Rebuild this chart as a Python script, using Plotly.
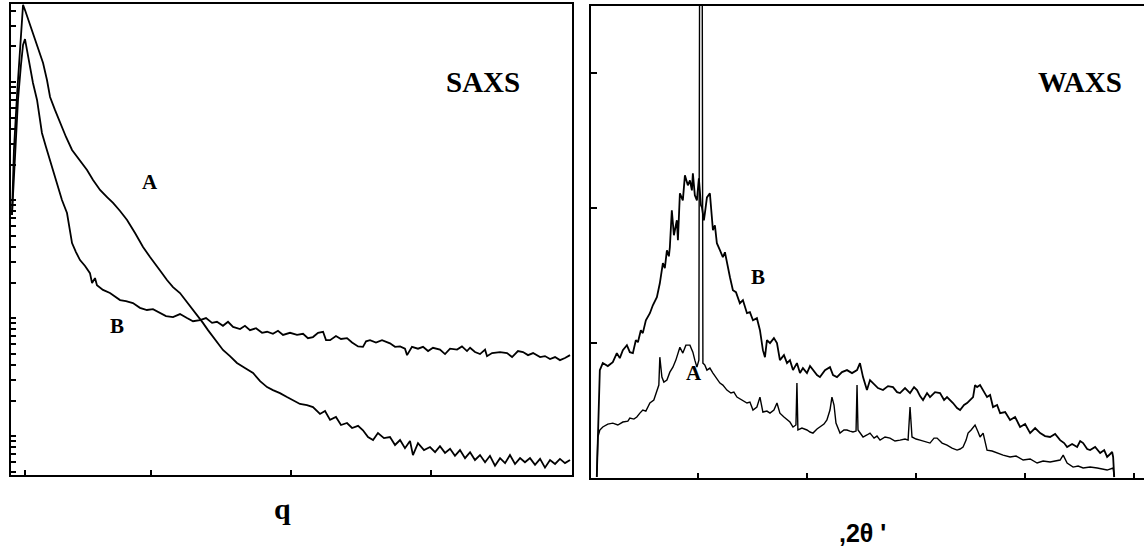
import plotly.graph_objects as go

# ---------------- SAXS data (q arbitrary units, intensity log scale) ----------------
saxs_a_q = [0.007, 0.021, 0.043, 0.064, 0.086, 0.1, 0.129, 0.157, 0.193, 0.229, 0.257, 0.279, 0.314, 0.35,
            0.393, 0.436, 0.493, 0.543, 0.586, 0.636, 0.686, 0.729, 0.779, 0.829, 0.886, 0.943, 0.993, 1.043,
            1.079, 1.114, 1.157, 1.207, 1.257, 1.3, 1.336, 1.371, 1.407, 1.443, 1.479, 1.514, 1.564, 1.614,
            1.671, 1.729, 1.779, 1.829, 1.871, 1.921, 1.971, 2.014, 2.064, 2.114, 2.157, 2.207, 2.243, 2.279,
            2.321, 2.357, 2.4, 2.436, 2.479, 2.514, 2.55, 2.586, 2.621, 2.664, 2.707, 2.743, 2.779, 2.814,
            2.85, 2.871, 2.907, 2.95, 2.993, 3.029, 3.064, 3.1, 3.136, 3.171, 3.207, 3.243, 3.279, 3.314,
            3.35, 3.386, 3.421, 3.457, 3.493, 3.529, 3.564, 3.6, 3.636, 3.671, 3.707, 3.743, 3.779, 3.814,
            3.85, 3.886, 3.921, 3.957, 3.993]
saxs_a_i = [746, 2655, 7760, 20600, 45000, 40700, 32300, 26000, 19400, 14500, 10400, 7460, 5800, 4500,
            3420, 2655, 2140, 1795, 1479, 1216, 1060, 944, 807, 678, 525, 400, 329, 270,
            240, 210, 183, 163, 137, 117, 102, 91, 79, 69, 60.3, 53.6, 47.6, 41.6,
            37.7, 34.2, 29.2, 26.0, 24.5, 23.1, 21.4, 20.2, 18.7, 18.3, 17.6, 15.4, 16.3, 13.7,
            14.5, 12.4, 12.9, 11.7, 12.2, 11.2, 9.8, 9.25, 10.6, 9.6, 9.8, 8.4, 9.25, 7.9,
            9.1, 6.9, 8.7, 7.6, 8.07, 7.3, 8.2, 7.2, 7.8, 6.8, 7.6, 6.5, 7.3, 6.27,
            6.9, 6.0, 6.8, 5.6, 6.5, 5.9, 6.9, 5.8, 6.5, 6.0, 6.5, 5.7, 6.4, 5.4,
            6.27, 5.8, 6.4, 5.9, 6.27]

saxs_b_q = [0.007, 0.029, 0.05, 0.071, 0.086, 0.1, 0.114, 0.136, 0.157, 0.186, 0.207, 0.221, 0.25, 0.279,
            0.307, 0.336, 0.364, 0.4, 0.421, 0.436, 0.464, 0.493, 0.529, 0.564, 0.579, 0.6, 0.614, 0.657,
            0.707, 0.743, 0.779, 0.821, 0.871, 0.921, 0.971, 1.014, 1.064, 1.107, 1.157, 1.207, 1.257, 1.3,
            1.35, 1.393, 1.436, 1.471, 1.514, 1.55, 1.586, 1.636, 1.671, 1.707, 1.75, 1.793, 1.829, 1.871,
            1.907, 1.943, 1.993, 2.043, 2.086, 2.121, 2.157, 2.193, 2.229, 2.25, 2.279, 2.321, 2.357, 2.4,
            2.436, 2.479, 2.514, 2.536, 2.564, 2.607, 2.65, 2.707, 2.743, 2.779, 2.814, 2.829, 2.864, 2.907,
            2.943, 2.979, 3.014, 3.064, 3.1, 3.136, 3.186, 3.221, 3.257, 3.279, 3.314, 3.35, 3.386, 3.4,
            3.436, 3.493, 3.543, 3.579, 3.621, 3.657, 3.693, 3.729, 3.779, 3.814, 3.85, 3.886, 3.921, 3.957,
            3.993]
saxs_b_i = [746, 2183, 7050, 13900, 20600, 23100, 18700, 13400, 9810, 7050, 4950, 3700, 2810, 2183,
            1660, 1288, 1000, 776, 557, 432, 362, 310, 276, 240, 198, 218, 190, 173,
            163, 151, 142, 139, 134, 122, 117, 119, 110, 104, 102, 108, 100, 94,
            96, 100, 91, 93, 86, 93, 84, 80.7, 86, 79, 82, 75, 76.5, 73.5,
            78, 72, 75, 72, 73.5, 67.5, 69, 75, 76.5, 65, 65, 70.5, 66.5, 67.5,
            62, 57.5, 57, 63.5, 65, 62, 65, 61, 57, 57.5, 55, 48.5, 57, 55,
            57, 52.5, 56, 54, 49.5, 55, 54, 57.5, 52.5, 56, 51.5, 49.5, 54, 47.5,
            50.5, 51.5, 50.5, 46.7, 52.5, 51.5, 48.5, 50.5, 46.7, 47.6, 45, 46.7, 44, 45.8,
            48.5]

saxs_xticks = [0.1, 1, 2, 3, 4]
saxs_yticks = [5, 6, 7, 8, 9, 10, 20, 30, 40, 50, 60, 70, 80, 90, 100, 200, 300, 400, 500, 600, 700, 800, 900,
               1000, 2000, 3000, 4000, 5000, 6000, 7000, 8000, 9000, 10000, 20000, 30000, 40000]

# ---------------- WAXS data (2theta, intensity linear) ----------------
waxs_b_t = [0.73, 0.92, 1.01, 1.28, 1.74, 2.20, 2.57, 2.84, 3.12, 3.49, 3.76, 4.04, 4.31, 4.50, 4.77, 4.95,
            5.23, 5.60, 5.87, 6.24, 6.51, 6.79, 6.97, 7.16, 7.34, 7.43, 7.61, 7.80, 8.07, 8.17, 8.35, 8.62,
            8.81, 9.08, 9.27, 9.45, 9.54, 9.72, 9.91, 10.09, 10.28, 10.37, 10.55, 10.64, 10.83, 11.10, 11.28,
            11.38, 11.56, 11.74, 12.02, 12.29, 12.48, 12.66, 12.94, 13.21, 13.49, 13.85, 14.13, 14.50, 14.77,
            15.05, 15.41, 15.69, 15.96, 16.15, 16.33, 16.61, 16.97, 17.25, 17.52, 17.89, 18.17, 18.44, 18.72,
            19.08, 19.36, 19.63, 20.0, 20.28, 20.55, 20.92, 21.19, 21.65, 22.11, 22.39, 22.75, 23.21, 23.67,
            24.13, 24.59, 24.86, 25.14, 25.50, 25.78, 26.06, 26.51, 26.97, 27.43, 27.89, 28.26, 28.53, 28.99,
            29.45, 29.82, 30.09, 30.37, 30.64, 31.01, 31.28, 31.74, 32.20, 32.57, 32.84, 33.12, 33.39, 33.76,
            34.04, 34.40, 34.68, 34.95, 35.23, 35.41, 35.60, 35.87, 36.15, 36.51, 36.79, 37.06, 37.43, 37.71,
            38.17, 38.62, 39.08, 39.54, 40.0, 40.46, 40.92, 41.38, 41.83, 42.29, 42.75, 43.21, 43.58, 43.85,
            44.31, 44.77, 45.05, 45.32, 45.69, 45.96, 46.42, 46.88, 47.25, 47.52, 47.80, 47.98, 48.07, 48.17]
waxs_b_i = [0.007, 0.652, 0.80, 0.852, 0.830, 0.859, 0.926, 0.889, 0.948, 0.985, 0.933, 0.926, 1.022, 1.007,
            1.096, 1.074, 1.170, 1.222, 1.281, 1.341, 1.444, 1.593, 1.556, 1.689, 1.644, 1.711, 1.985, 1.8,
            1.911, 1.763, 2.111, 2.059, 2.244, 2.170, 2.207, 2.133, 2.259, 2.096, 2.059, 2.222, 2.022, 2.007,
            1.911, 1.963, 2.081, 2.111, 1.948, 1.837, 1.874, 1.741, 1.689, 1.637, 1.674, 1.593, 1.489, 1.393,
            1.378, 1.296, 1.319, 1.222, 1.230, 1.170, 1.185, 1.096, 0.948, 0.896, 1.022, 1.0, 1.037, 1.0,
            0.874, 0.911, 0.852, 0.874, 0.80, 0.852, 0.778, 0.815, 0.778, 0.830, 0.80, 0.763, 0.748, 0.80,
            0.822, 0.763, 0.748, 0.785, 0.80, 0.778, 0.80, 0.852, 0.748, 0.652, 0.726, 0.704, 0.667, 0.652,
            0.681, 0.674, 0.637, 0.630, 0.667, 0.630, 0.674, 0.652, 0.607, 0.578, 0.630, 0.6, 0.637, 0.630,
            0.578, 0.6, 0.578, 0.556, 0.519, 0.504, 0.541, 0.556, 0.578, 0.6, 0.689, 0.674, 0.689, 0.652,
            0.6, 0.615, 0.526, 0.541, 0.481, 0.489, 0.430, 0.452, 0.378, 0.4, 0.333, 0.370, 0.333, 0.311,
            0.304, 0.326, 0.281, 0.259, 0.230, 0.252, 0.230, 0.274, 0.259, 0.215, 0.207, 0.230, 0.185, 0.207,
            0.156, 0.178, 0.193, 0.156, 0.007]

waxs_a_t = [0.73, 0.83, 1.01, 1.28, 1.74, 2.20, 2.66, 3.12, 3.58, 3.76, 4.13, 4.40, 4.68, 4.95, 5.23, 5.60,
            5.96, 6.24, 6.42, 6.51, 6.70, 6.88, 7.16, 7.43, 7.71, 7.98, 8.35, 8.62, 8.90, 9.27, 9.54, 9.72,
            9.91, 10.09, 10.28, 10.46, 10.64, 10.83, 11.10, 11.38, 11.74, 12.02, 12.29, 12.66, 13.03,
            13.30, 13.58, 14.04, 14.50, 14.77, 15.05, 15.41, 15.69, 15.96, 16.33, 16.61, 16.97, 17.25, 17.52,
            17.89, 18.17, 18.44, 18.72, 18.99, 19.08, 19.17, 19.54, 20.0, 20.28, 20.55, 20.92, 21.19, 21.56,
            21.83, 22.11, 22.29, 22.48, 22.66, 23.03, 23.39, 23.67, 23.94, 24.22, 24.50, 24.59, 24.68, 24.86,
            25.14, 25.50, 25.78, 26.15, 26.42, 26.70, 27.16, 27.61, 28.07, 28.53, 28.99, 29.27, 29.45, 29.63,
            30.0, 30.37, 30.83, 31.28, 31.65, 31.93, 32.39, 32.84, 33.30, 33.76, 34.04, 34.31, 34.59, 34.77,
            35.05, 35.41, 35.69, 35.87, 36.15, 36.51, 36.97, 37.43, 37.98, 38.62, 39.17, 39.82, 40.46, 41.10,
            41.65, 42.29, 42.75, 43.21, 43.49, 43.85, 44.40, 44.86, 45.32, 45.96, 46.61, 47.06, 47.52, 48.07,
            48.17]
waxs_a_i = [0.007, 0.304, 0.356, 0.378, 0.4, 0.407, 0.393, 0.415, 0.422, 0.444, 0.437, 0.452, 0.481, 0.504,
            0.496, 0.556, 0.578, 0.652, 0.689, 0.896, 0.748, 0.711, 0.726, 0.785, 0.822, 0.874, 0.970, 0.926,
            0.985, 0.985, 0.933, 0.874, 0.822, 0.874, 9.0, 0.852, 0.837, 0.80, 0.815, 0.778, 0.741,
            0.704, 0.689, 0.652, 0.630, 0.637, 0.6, 0.578, 0.556, 0.563, 0.504, 0.526, 0.6, 0.489, 0.496,
            0.481, 0.504, 0.556, 0.481, 0.452, 0.430, 0.415, 0.378, 0.393, 0.704, 0.356, 0.370, 0.356, 0.341,
            0.333, 0.363, 0.378, 0.4, 0.430, 0.504, 0.6, 0.541, 0.407, 0.333, 0.356, 0.356, 0.348, 0.341,
            0.348, 0.689, 0.356, 0.333, 0.304, 0.319, 0.333, 0.296, 0.311, 0.281, 0.304, 0.296, 0.274, 0.281,
            0.289, 0.281, 0.526, 0.304, 0.289, 0.281, 0.267, 0.259, 0.296, 0.296, 0.259, 0.244, 0.222, 0.207,
            0.215, 0.230, 0.281, 0.333, 0.356, 0.393, 0.341, 0.304, 0.333, 0.207, 0.2, 0.185, 0.170, 0.156,
            0.163, 0.133, 0.141, 0.111, 0.126, 0.119, 0.126, 0.133, 0.170, 0.111, 0.081, 0.089, 0.074, 0.081,
            0.074, 0.067, 0.059, 0.074, 0.007]

waxs_xticks = [10, 20, 30, 40, 50]
waxs_yticks = [1, 2, 3]

LINE = dict(color="black", width=1.8)
fig = go.Figure()
fig.add_trace(go.Scatter(x=saxs_a_q, y=saxs_a_i, mode="lines", line=LINE, xaxis="x", yaxis="y"))
fig.add_trace(go.Scatter(x=saxs_b_q, y=saxs_b_i, mode="lines", line=LINE, xaxis="x", yaxis="y"))
fig.add_trace(go.Scatter(x=waxs_b_t, y=waxs_b_i, mode="lines", line=LINE, xaxis="x2", yaxis="y2"))
fig.add_trace(go.Scatter(x=waxs_a_t, y=waxs_a_i, mode="lines", line=dict(color="black", width=1.4),
                         xaxis="x2", yaxis="y2"))

W, H = 1144, 551
serif = "Liberation Serif"
axis_common = dict(showline=True, linecolor="black", linewidth=2, showgrid=False, zeroline=False,
                   showticklabels=False, ticks="inside", tickcolor="black", tickwidth=1.5)

fig.update_layout(
    width=W, height=H, margin=dict(l=0, r=0, t=0, b=0),
    paper_bgcolor="white", plot_bgcolor="white", showlegend=False,
    xaxis=dict(axis_common, domain=[11 / W, 572 / W], range=[0, 4.007], mirror=True,
               tickvals=saxs_xticks, ticklen=5, anchor="y"),
    yaxis=dict(axis_common, domain=[1 - 475 / H, 1 - 4 / H], type="log", range=[0.67, 4.661], mirror=True,
               tickvals=saxs_yticks, ticklen=5, anchor="x"),
    xaxis2=dict(axis_common, domain=[591 / W, 1.0], range=[0.2, 50.9], mirror=True,
                tickvals=waxs_xticks, ticklen=5, anchor="y2"),
    yaxis2=dict(axis_common, domain=[1 - 478 / H, 1 - 6 / H], range=[0, 3.5],
                tickvals=waxs_yticks, ticklen=6, anchor="x2"),
)

bold = dict(family=serif, color="black")
ann = [
    dict(x=0.993, y=3.153, xref="x", yref="y", text="<b>A</b>", font=dict(bold, size=21)),
    dict(x=0.757, y=1.932, xref="x", yref="y", text="<b>B</b>", font=dict(bold, size=21)),
    dict(x=3.371, y=4.0, xref="x", yref="y", text="<b>SAXS</b>", font=dict(bold, size=29)),
    dict(x=15.5, y=1.489, xref="x2", yref="y2", text="<b>B</b>", font=dict(bold, size=21)),
    dict(x=9.63, y=0.778, xref="x2", yref="y2", text="<b>A</b>", font=dict(bold, size=21)),
    dict(x=45.05, y=2.933, xref="x2", yref="y2", text="<b>WAXS</b>", font=dict(bold, size=29)),
    dict(x=282 / W, y=1 - 508 / H, xref="paper", yref="paper", text="<b>q</b>",
         font=dict(bold, size=30)),
    dict(x=862 / W, y=1 - 533 / H, xref="paper", yref="paper", text="<b>,2θ '</b>",
         font=dict(family="Liberation Sans", color="black", size=25)),
]
for a in ann:
    a.update(showarrow=False, xanchor="center", yanchor="middle")
fig.update_layout(annotations=ann)

fig.write_html("out.html")
